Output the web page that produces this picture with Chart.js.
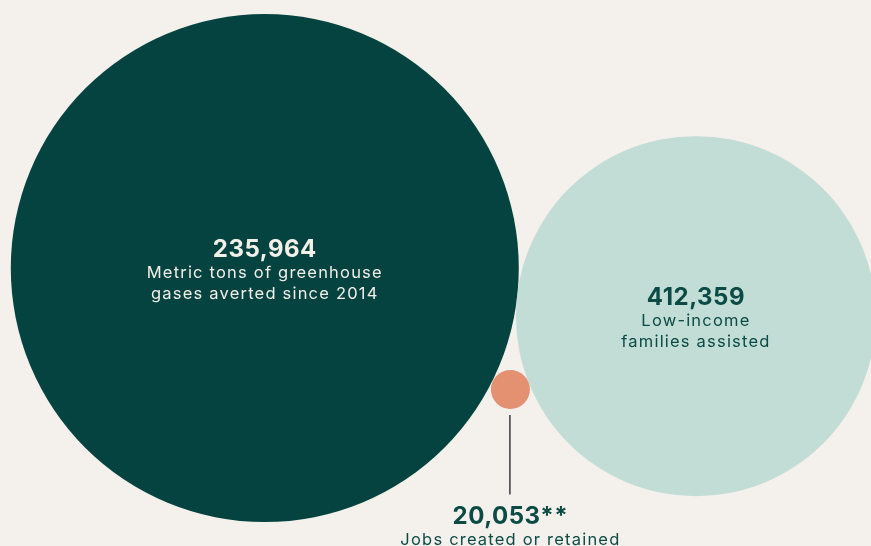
<!DOCTYPE html>
<html>
<head>
<meta charset="utf-8">
<script src="https://cdn.jsdelivr.net/npm/chart.js@4"></script>
<style>
  html, body { margin: 0; padding: 0; background: #f4f1ec; }
  #wrap { width: 871px; height: 546px; }
</style>
</head>
<body>
<div id="wrap"><canvas id="impacto"></canvas></div>
<script>
// datos
var valores = [235964, 412359, 20053];
var sufijos = ['', '', '**'];
var descripciones = [
  ['Metric tons of greenhouse', 'gases averted since 2014'],
  ['Low-income', 'families assisted'],
  ['Jobs created or retained']
];

// layout (percent of the canvas) and bubble radius in px
var posX = [30.4, 79.9, 58.6];
var posY = [49.1, 57.9, 71.35];
var radios = [254, 180, 19.5];
var colores = ['#04433f', '#c2ddd6', '#e49171'];
var colorTexto = ['#f3f0e9', '#0b4a45', '#0b4a45'];

function formato(n) {
  return n.toLocaleString('en-US');
}

var puntos = valores.map(function (v, i) {
  return { x: posX[i], y: posY[i], r: radios[i], v: v };
});

var etiquetas = {
  id: 'etiquetas',
  afterDatasetsDraw: function (chart) {
    var ctx = chart.ctx;
    var meta = chart.getDatasetMeta(0);
    ctx.save();
    ctx.textAlign = 'center';
    ctx.textBaseline = 'alphabetic';
    meta.data.forEach(function (el, i) {
      var cx = el.x, cy = el.y;
      var base;
      if (i < 2) {
        base = cy - 11.5;
      } else {
        // connector below the small bubble
        ctx.strokeStyle = '#3b3b3b';
        ctx.lineWidth = 1.5;
        ctx.beginPath();
        ctx.moveTo(cx - 0.5, cy + radios[i] + 6);
        ctx.lineTo(cx - 0.5, cy + 105);
        ctx.stroke();
        base = cy + 134;
      }
      ctx.fillStyle = colorTexto[i];
      ctx.font = 'bold 24px Inter';
      ctx.letterSpacing = '0.5px';
      ctx.fillText(formato(valores[i]) + sufijos[i], cx, base);
      ctx.font = '16.5px Inter';
      ctx.letterSpacing = '1.2px';
      descripciones[i].forEach(function (linea, k) {
        ctx.fillText(linea, cx, base + 21.5 + k * 20.5);
      });
    });
    ctx.restore();
  }
};

var ctx = document.getElementById('impacto');
new Chart(ctx, {
  type: 'bubble',
  data: {
    datasets: [{
      label: 'Impacto',
      data: puntos,
      backgroundColor: colores,
      borderWidth: 0,
      hoverBorderWidth: 0,
      clip: false
    }]
  },
  options: {
    responsive: true,
    maintainAspectRatio: false,
    animation: false,
    layout: { padding: 0, autoPadding: false },
    scales: {
      x: { type: 'linear', min: 0, max: 100, display: false },
      y: { type: 'linear', min: 0, max: 100, reverse: true, display: false }
    },
    plugins: {
      legend: { display: false },
      tooltip: { enabled: false }
    }
  },
  plugins: [etiquetas]
});
</script>
</body>
</html>
